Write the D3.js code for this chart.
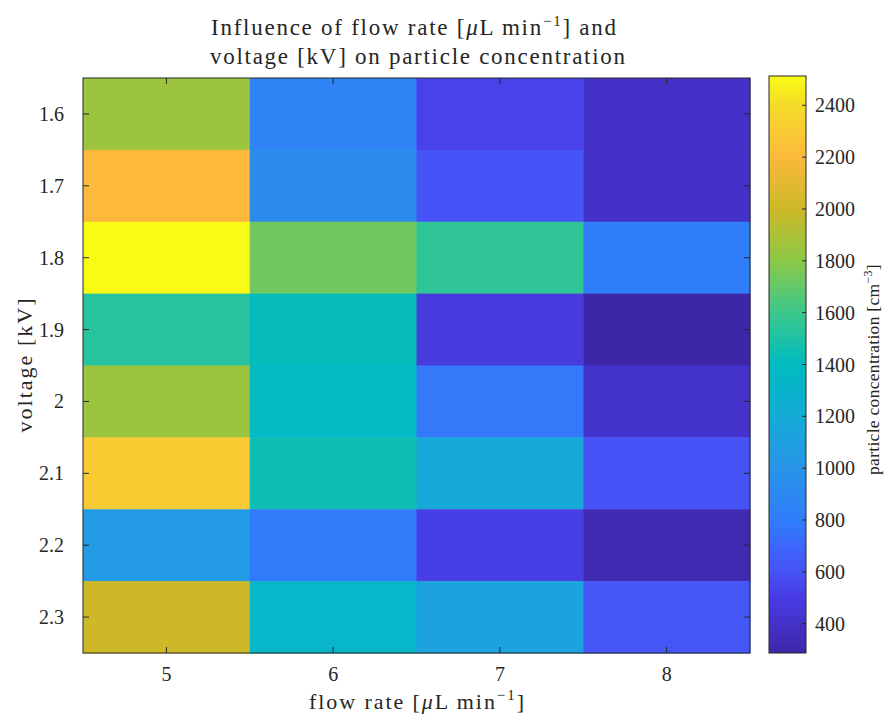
<!DOCTYPE html>
<html>
<head>
<meta charset="utf-8">
<script src="https://cdn.jsdelivr.net/npm/d3@7"></script>
<style>
  body { margin: 0; background: #fff; }
  text { font-family: "Liberation Serif", "DejaVu Serif", serif; fill: #262626; }
</style>
</head>
<body>
<svg id="chart"></svg>
<script>
// Chart size
const width = 886;
const height = 718;

// Data
const flowRates = [5, 6, 7, 8];
const voltages = [1.6, 1.7, 1.8, 1.9, 2.0, 2.1, 2.2, 2.3];
const voltageLabels = ["1.6", "1.7", "1.8", "1.9", "2", "2.1", "2.2", "2.3"];
// one row per voltage, one value per flow rate
const conc = [
  [1850, 850, 530, 400],
  [2200, 930, 610, 400],
  [2513, 1730, 1560, 800],
  [1530, 1420, 480, 287],
  [1850, 1380, 780, 410],
  [2300, 1450, 1180, 600],
  [1050, 790, 510, 320],
  [2000, 1330, 1120, 620]
];
const colorTicks = [400, 600, 800, 1000, 1200, 1400, 1600, 1800, 2000, 2200, 2400];
const colorDomain = [287, 2513];

// parula-like stops
const parulaStops = [
  [0.00, "#3e26a8"], [0.05, "#4432c8"], [0.10, "#483ee6"], [0.14, "#4652f5"],
  [0.19, "#3c69fc"], [0.23, "#307dfa"], [0.32, "#2894e8"], [0.41, "#14acd7"],
  [0.50, "#00bbc0"], [0.59, "#3cc88c"], [0.68, "#8cc846"], [0.77, "#cdb928"],
  [0.86, "#fcb93c"], [0.95, "#f5dc28"], [1.00, "#f9fb14"]
];
const parula = d3.scaleLinear()
  .domain(parulaStops.map(d => d[0]))
  .range(parulaStops.map(d => d[1]))
  .interpolate(d3.interpolateRgb)
  .clamp(true);

const norm = d3.scaleLinear().domain(colorDomain).range([0, 1]).clamp(true);
const color = v => parula(norm(v));

// layout
const plot = { left: 83, top: 78, right: 750, bottom: 653 };
const cbar = { left: 769, right: 806 };

const svg = d3.select("#chart").attr("width", width).attr("height", height);

const x = d3.scaleBand().domain(flowRates).range([plot.left, plot.right]).padding(0);
const y = d3.scaleBand().domain(voltages).range([plot.top, plot.bottom]).padding(0);

// cells
const cells = [];
conc.forEach((row, i) => row.forEach((v, j) => cells.push({ v: voltages[i], f: flowRates[j], c: v })));

svg.append("g")
  .selectAll("rect")
  .data(cells)
  .enter()
  .append("rect")
  .attr("x", d => x(d.f))
  .attr("y", d => y(d.v))
  .attr("width", x.bandwidth() + 0.5)
  .attr("height", y.bandwidth() + 0.5)
  .attr("fill", d => color(d.c));

// frame and ticks
const axisColor = "#262626";
const frame = svg.append("g");
frame.append("rect")
  .attr("x", plot.left).attr("y", plot.top)
  .attr("width", plot.right - plot.left).attr("height", plot.bottom - plot.top)
  .attr("fill", "none").attr("stroke", axisColor).attr("stroke-width", 1);

const tl = 6;
flowRates.forEach(f => {
  const cx = x(f) + x.bandwidth() / 2;
  frame.append("line").attr("x1", cx).attr("x2", cx).attr("y1", plot.bottom).attr("y2", plot.bottom - tl).attr("stroke", axisColor);
  frame.append("line").attr("x1", cx).attr("x2", cx).attr("y1", plot.top).attr("y2", plot.top + tl).attr("stroke", axisColor);
  svg.append("text")
    .attr("x", cx).attr("y", 681)
    .attr("text-anchor", "middle")
    .style("font-size", "20px")
    .text(f);
});
voltages.forEach((v, i) => {
  const cy = y(v) + y.bandwidth() / 2;
  frame.append("line").attr("x1", plot.left).attr("x2", plot.left + tl).attr("y1", cy).attr("y2", cy).attr("stroke", axisColor);
  frame.append("line").attr("x1", plot.right).attr("x2", plot.right - tl).attr("y1", cy).attr("y2", cy).attr("stroke", axisColor);
  svg.append("text")
    .attr("x", 64).attr("y", cy + 7)
    .attr("text-anchor", "end")
    .style("font-size", "20px")
    .text(voltageLabels[i]);
});

// colorbar
const cy = d3.scaleLinear().domain(colorDomain).range([plot.bottom, 76]);
const defs = svg.append("defs");
const grad = defs.append("linearGradient")
  .attr("id", "cgrad").attr("x1", 0).attr("x2", 0).attr("y1", 1).attr("y2", 0);
parulaStops.forEach(s => grad.append("stop").attr("offset", s[0]).attr("stop-color", s[1]));

svg.append("rect")
  .attr("x", cbar.left).attr("y", cy(colorDomain[1]))
  .attr("width", cbar.right - cbar.left)
  .attr("height", cy(colorDomain[0]) - cy(colorDomain[1]))
  .attr("fill", "url(#cgrad)")
  .attr("stroke", axisColor).attr("stroke-width", 1);

colorTicks.forEach(t => {
  svg.append("line")
    .attr("x1", cbar.right).attr("x2", cbar.right - 4)
    .attr("y1", cy(t)).attr("y2", cy(t))
    .attr("stroke", axisColor);
  svg.append("text")
    .attr("x", 815).attr("y", cy(t) + 7)
    .style("font-size", "20px")
    .text(t);
});

// colorbar label
const cl = svg.append("text")
  .attr("transform", `translate(879, ${(plot.top + plot.bottom) / 2 + 4}) rotate(-90)`)
  .attr("text-anchor", "middle")
  .style("font-size", "17.5px")
  .style("letter-spacing", "0.3px");
cl.append("tspan").text("particle concentration [cm");
cl.append("tspan").attr("dy", -7).style("font-size", "12px").text("\u22123");
cl.append("tspan").attr("dy", 7).text("]");

// axis labels
const xl = svg.append("text")
  .attr("x", (plot.left + plot.right) / 2).attr("y", 709)
  .attr("text-anchor", "middle")
  .attr("textLength", 215)
  .style("font-size", "22px");
xl.append("tspan").text("flow rate [");
xl.append("tspan").style("font-style", "italic").text("\u03bc");
xl.append("tspan").text("L min");
xl.append("tspan").attr("dy", -9).style("font-size", "15px").text("\u22121");
xl.append("tspan").attr("dy", 9).text("]");

svg.append("text")
  .attr("transform", `translate(32, ${(plot.top + plot.bottom) / 2}) rotate(-90)`)
  .attr("text-anchor", "middle")
  .attr("textLength", 134)
  .style("font-size", "22px")
  .text("voltage [kV]");

// title
const tx = (plot.left + plot.right) / 2;
const t1 = svg.append("text")
  .attr("x", tx - 3).attr("y", 35)
  .attr("text-anchor", "middle")
  .attr("textLength", 405)
  .style("font-size", "23px");
t1.append("tspan").text("Influence of flow rate [");
t1.append("tspan").style("font-style", "italic").text("\u03bc");
t1.append("tspan").text("L min");
t1.append("tspan").attr("dy", -9).style("font-size", "15px").text("\u22121");
t1.append("tspan").attr("dy", 9).text("] and");

svg.append("text")
  .attr("x", tx + 1).attr("y", 64)
  .attr("text-anchor", "middle")
  .attr("textLength", 415)
  .style("font-size", "23px")
  .text("voltage [kV] on particle concentration");
</script>
</body>
</html>
